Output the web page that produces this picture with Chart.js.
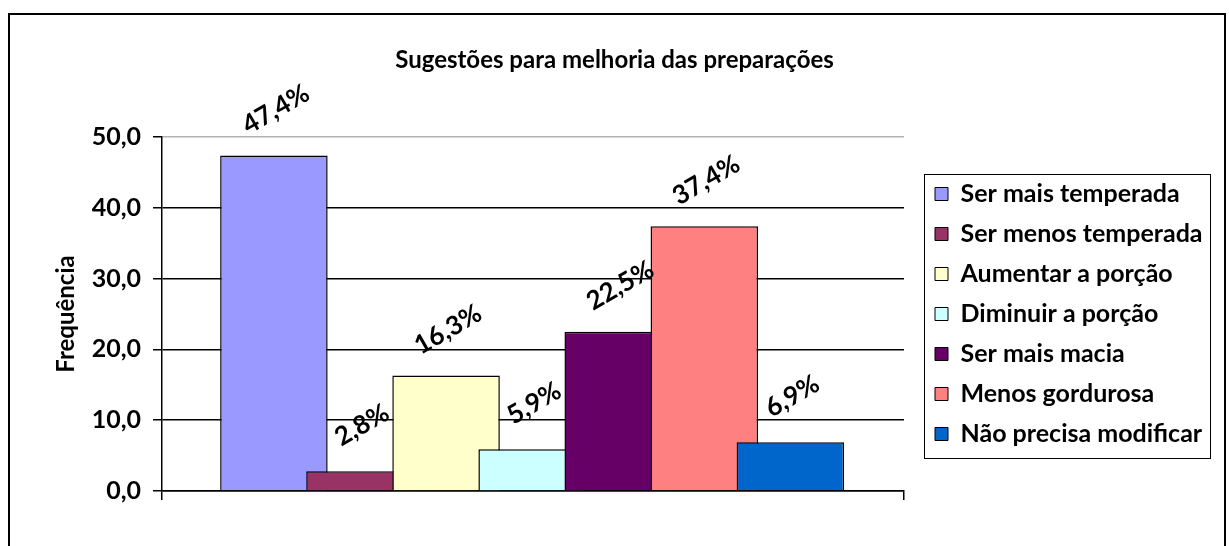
<!DOCTYPE html>
<html><head><meta charset="utf-8">
<script src="https://cdn.jsdelivr.net/npm/chart.js@4.4.1/dist/chart.umd.min.js"></script>
<style>
html,body{margin:0;padding:0;background:#fff;overflow:hidden}
#frame{position:absolute;left:8px;top:13px;width:1218px;height:600px;border:2px solid #000;box-sizing:border-box}
#wrap{position:absolute;left:0;top:0;width:1229px;height:546px}
</style></head><body>
<div id="frame"></div>
<div id="wrap"><canvas id="c" width="1229" height="546"></canvas></div>
<script>
const chartTitle = 'Sugestões para melhoria das preparações';
const yAxisTitle = 'Frequência';
const categories = ['Ser mais temperada','Ser menos temperada','Aumentar a porção','Diminuir a porção','Ser mais macia','Menos gordurosa','Não precisa modificar'];
const values = [47.4, 2.8, 16.3, 5.9, 22.5, 37.4, 6.9];
const colors = ['#9999FF','#993366','#FFFFCC','#CCFFFF','#660066','#FF8080','#0066CC'];
const yTicks = [0, 10, 20, 30, 40, 50];

const FONT = 'Lato';
const TITLE_SIZE = 24, TICK_SIZE = 25, YTITLE_SIZE = 24, LEG_SIZE = 25, LABEL_SIZE = 26;
const LEG_PAD = 40 - LEG_SIZE, LEG_BOX = 13;
const AREA_LEFT = 162, AREA_RIGHT = 904, SWATCH_LEFT = 935;
const fmt = v => v.toFixed(1).replace('.', ',');

// measure legend text to place the legend
const mctx = document.createElement('canvas').getContext('2d');
mctx.font = `bold ${LEG_SIZE}px ${FONT}`;
const maxTextW = Math.max(...categories.map(c => mctx.measureText(c).width));
const legendWidth = LEG_PAD + LEG_BOX + LEG_SIZE / 2 + maxTextW + 10;
const GAP = SWATCH_LEFT - LEG_PAD - AREA_RIGHT;
const padRight = Math.max(0, 1229 - (SWATCH_LEFT - LEG_PAD) - legendWidth);
const padLeft = Math.min(padRight, 40);

const valueLabels = {
  id: 'valueLabels',
  afterDatasetsDraw(chart) {
    const ctx = chart.ctx;
    const meta = chart.getDatasetMeta(0);
    ctx.save();
    ctx.font = `bold ${LABEL_SIZE}px ${FONT}`;
    ctx.fillStyle = '#000';
    ctx.textAlign = 'center';
    ctx.textBaseline = 'middle';
    meta.data.forEach((bar, i) => {
      ctx.save();
      ctx.translate(bar.x + 2, bar.y - 46);
      ctx.rotate(-30 * Math.PI / 180);
      ctx.fillText(fmt(values[i]) + '%', 0, 0);
      ctx.restore();
    });
    ctx.restore();
  }
};

const legendBorder = {
  id: 'legendBorder',
  afterDraw(chart) {
    const hb = chart.legend && chart.legend.legendHitBoxes;
    if (!hb || !hb.length) return;
    const left = Math.min(...hb.map(h => h.left));
    const right = Math.max(...hb.map(h => h.left + h.width));
    const first = hb[0], last = hb[hb.length - 1];
    const top = first.top + first.height / 2 - 20;
    const bottom = last.top + last.height / 2 + 24;
    const ctx = chart.ctx;
    ctx.save();
    ctx.strokeStyle = '#000';
    ctx.lineWidth = 1;
    ctx.strokeRect(Math.round(left - 11) + 0.5, Math.round(top) + 0.5, Math.round(right + 7 - (left - 11)), Math.round(bottom - top));
    ctx.restore();
  }
};

new Chart(document.getElementById('c'), {
  type: 'bar',
  data: {
    datasets: [{
      data: values.map((v, i) => ({x: i, y: v})),
      backgroundColor: colors,
      borderColor: '#000',
      borderWidth: 1.5,
      barPercentage: 1.249,
      categoryPercentage: 1
    }]
  },
  options: {
    responsive: false,
    animation: false,
    devicePixelRatio: 1,
    layout: {padding: {top: 0, left: padLeft, right: padRight, bottom: 46}},
    plugins: {
      title: {
        display: true, text: chartTitle, color: '#000',
        font: {family: FONT, weight: 'bold', size: TITLE_SIZE},
        padding: {top: 45.6, bottom: 62.6}
      },
      legend: {
        position: 'right', fullSize: false, align: 'center', maxWidth: 500,
        onClick: null,
        labels: {
          font: {family: FONT, weight: 'bold', size: LEG_SIZE},
          color: '#000', boxWidth: LEG_BOX, boxHeight: LEG_BOX, padding: LEG_PAD,
          generateLabels: () => categories.map((c, i) => ({
            text: c, fillStyle: colors[i], strokeStyle: '#000', lineWidth: 1,
            hidden: false, index: i, datasetIndex: 0, fontColor: '#000'
          }))
        }
      },
      tooltip: {enabled: false}
    },
    scales: {
      x: {
        type: 'linear', min: -1.3, max: 7.32, offset: false,
        grid: {display: true, drawOnChartArea: false, offset: false, color: '#000', tickColor: '#000', tickLength: 9, lineWidth: 1.5},
        border: {display: true, color: '#000', width: 1.5},
        ticks: {display: false},
        afterBuildTicks: s => { s.ticks = [{value: s.min}, {value: s.max}]; }
      },
      y: {
        min: 0, max: 50,
        afterBuildTicks: s => { s.ticks = yTicks.map(v => ({value: v})); },
        ticks: {
          color: '#000', padding: 12,
          font: {family: FONT, weight: 'bold', size: TICK_SIZE},
          callback: v => fmt(v)
        },
        grid: {
          color: c => (c.tick && c.tick.value === 50) ? '#b4b4b4' : '#000',
          tickColor: '#000', tickLength: 9, lineWidth: 1.5
        },
        border: {display: true, color: '#000', width: 1.5},
        title: {
          display: true, text: yAxisTitle, color: '#000',
          font: {family: FONT, weight: 'bold', size: YTITLE_SIZE},
          padding: {top: 66 - YTITLE_SIZE * 0.6 - padLeft, bottom: 0}
        },
        afterFit: s => { s.width = AREA_LEFT - padLeft; }
      },
      gap: {
        type: 'linear', position: 'right', display: true,
        grid: {display: false}, border: {display: false}, ticks: {display: false},
        afterFit: s => { s.width = GAP; }
      }
    }
  },
  plugins: [valueLabels, legendBorder]
});
</script>
</body></html>
